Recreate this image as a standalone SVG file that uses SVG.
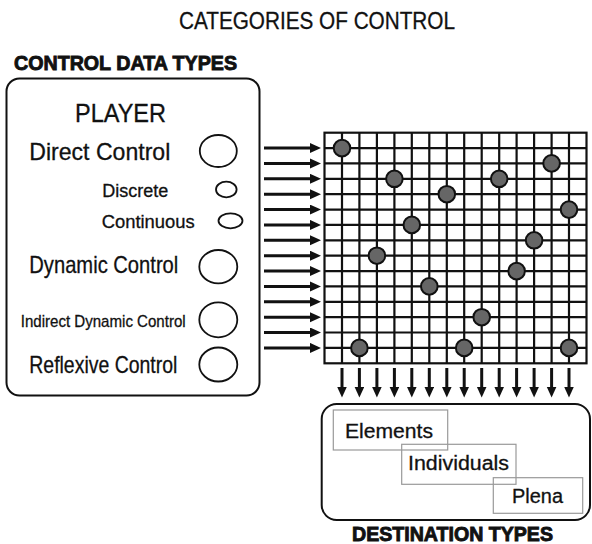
<svg xmlns="http://www.w3.org/2000/svg" width="592" height="544" viewBox="0 0 592 544">
  <style>
    text { font-family: "Liberation Sans", Arial, sans-serif; fill: #111; stroke: #111; stroke-width: 0.3px; }
    .title { font-size: 23px; }
    .heading { font-size: 20px; font-weight: bold; stroke-width: 0.9px; }
    .big { font-size: 24px; }
    .mid { font-size: 18px; }
    .small { font-size: 17px; }
    .dest { font-size: 20px; }
    .panel { fill: none; stroke: #111; stroke-width: 2; }
    .port { fill: none; stroke: #111; stroke-width: 1.8; }
    .tag { fill: none; stroke: #999; stroke-width: 1.2; }
    .grid { fill: none; stroke: #111; stroke-width: 2.2; }
    .node { fill: #666; stroke: #111; stroke-width: 2; }
    .arrow { stroke: #111; stroke-width: 3; fill: none; marker-end: url(#head); }
  </style>
  <defs>
    <marker id="head" markerUnits="userSpaceOnUse" markerWidth="12" markerHeight="11" refX="1" refY="5" orient="auto">
      <path d="M0,0 L11,5 L0,10 z" fill="#111"/>
    </marker>
  </defs>

  <rect width="592" height="544" fill="#fff"/>

  <text class="title" x="179" y="29" textLength="276" lengthAdjust="spacingAndGlyphs">CATEGORIES OF CONTROL</text>
  <text class="heading" x="14" y="70" textLength="223" lengthAdjust="spacingAndGlyphs">CONTROL DATA TYPES</text>
  <text class="heading" x="352" y="541" textLength="201" lengthAdjust="spacingAndGlyphs">DESTINATION TYPES</text>

  <!-- player: control data types -->
  <g id="player">
    <rect class="panel" x="6.5" y="78.5" width="253" height="317" rx="13"/>
    <text class="big" x="75" y="121.7" style="font-size:25px" textLength="91" lengthAdjust="spacingAndGlyphs">PLAYER</text>
    <text class="big" x="29.3" y="160" textLength="141" lengthAdjust="spacingAndGlyphs">Direct Control</text>
    <ellipse class="port" cx="218.3" cy="151" rx="18.5" ry="16"/>
    <text class="mid" x="102.3" y="196.7" textLength="66" lengthAdjust="spacingAndGlyphs">Discrete</text>
    <ellipse class="port" cx="226.3" cy="189.5" rx="10.3" ry="7.8"/>
    <text class="mid" x="101.7" y="228.3" textLength="93" lengthAdjust="spacingAndGlyphs">Continuous</text>
    <ellipse class="port" cx="230.5" cy="220.8" rx="12" ry="7.5"/>
    <text class="big" x="29.3" y="273.3" textLength="149" lengthAdjust="spacingAndGlyphs">Dynamic Control</text>
    <ellipse class="port" cx="218.3" cy="266.7" rx="19" ry="16.7"/>
    <text class="small" x="20.7" y="326.7" textLength="165" lengthAdjust="spacingAndGlyphs">Indirect Dynamic Control</text>
    <ellipse class="port" cx="218.3" cy="319.8" rx="19" ry="17.5"/>
    <text class="big" x="29.3" y="373.3" textLength="148" lengthAdjust="spacingAndGlyphs">Reflexive Control</text>
    <ellipse class="port" cx="218.3" cy="364.5" rx="19" ry="17"/>
  </g>

  <!-- routing matrix: 15 x 15 cells -->
  <g id="matrix">
    <rect class="grid" x="324.5" y="132.7" width="262" height="230.6"/>
    <path class="grid" d="M342,132.7V363.3 M359.4,132.7V363.3 M376.9,132.7V363.3 M394.4,132.7V363.3 M411.8,132.7V363.3 M429.3,132.7V363.3 M446.8,132.7V363.3 M464.2,132.7V363.3 M481.7,132.7V363.3 M499.2,132.7V363.3 M516.6,132.7V363.3 M534.1,132.7V363.3 M551.6,132.7V363.3 M569,132.7V363.3
      M324.5,148.1H586.5 M324.5,163.4H586.5 M324.5,178.8H586.5 M324.5,194.2H586.5 M324.5,209.6H586.5 M324.5,224.9H586.5 M324.5,240.3H586.5 M324.5,255.7H586.5 M324.5,271.1H586.5 M324.5,286.4H586.5 M324.5,301.8H586.5 M324.5,317.2H586.5 M324.5,332.5H586.5 M324.5,347.9H586.5"/>
    <circle class="node" cx="342" cy="148.1" r="8.3"/>
    <circle class="node" cx="551.6" cy="163.4" r="8.3"/>
    <circle class="node" cx="394.4" cy="178.8" r="8.3"/>
    <circle class="node" cx="499.2" cy="178.8" r="8.3"/>
    <circle class="node" cx="446.8" cy="194.2" r="8.3"/>
    <circle class="node" cx="569" cy="209.6" r="8.3"/>
    <circle class="node" cx="411.8" cy="224.9" r="8.3"/>
    <circle class="node" cx="534.1" cy="240.3" r="8.3"/>
    <circle class="node" cx="376.9" cy="255.7" r="8.3"/>
    <circle class="node" cx="516.6" cy="271.1" r="8.3"/>
    <circle class="node" cx="429.3" cy="286.4" r="8.3"/>
    <circle class="node" cx="481.7" cy="317.2" r="8.3"/>
    <circle class="node" cx="359.4" cy="347.9" r="8.3"/>
    <circle class="node" cx="464.2" cy="347.9" r="8.3"/>
    <circle class="node" cx="569" cy="347.9" r="8.3"/>
  </g>

  <!-- destination types -->
  <g id="destinations">
    <rect class="panel" x="321.7" y="404" width="268.3" height="116" rx="15"/>
    <rect class="tag" x="333.3" y="410" width="114.4" height="40"/>
    <rect class="tag" x="401.7" y="444.3" width="114.3" height="40"/>
    <rect class="tag" x="493.3" y="477.7" width="89.4" height="35.6"/>
    <text class="dest" x="345" y="438.3" textLength="88" lengthAdjust="spacingAndGlyphs">Elements</text>
    <text class="dest" x="408" y="470" textLength="101" lengthAdjust="spacingAndGlyphs">Individuals</text>
    <text class="dest" x="512" y="502.7" textLength="51" lengthAdjust="spacingAndGlyphs">Plena</text>
  </g>

  <!-- inputs into the matrix and outputs to the destinations -->
  <g id="connectors">
    <path class="arrow" d="M264,148.1H311"/>
    <path class="arrow" d="M264,163.4H311"/>
    <path class="arrow" d="M264,178.8H311"/>
    <path class="arrow" d="M264,194.2H311"/>
    <path class="arrow" d="M264,209.6H311"/>
    <path class="arrow" d="M264,224.9H311"/>
    <path class="arrow" d="M264,240.3H311"/>
    <path class="arrow" d="M264,255.7H311"/>
    <path class="arrow" d="M264,271.1H311"/>
    <path class="arrow" d="M264,286.4H311"/>
    <path class="arrow" d="M264,301.8H311"/>
    <path class="arrow" d="M264,317.2H311"/>
    <path class="arrow" d="M264,332.5H311"/>
    <path class="arrow" d="M264,347.9H311"/>

    <path class="arrow" d="M342,368V387.5"/>
    <path class="arrow" d="M359.4,368V387.5"/>
    <path class="arrow" d="M376.9,368V387.5"/>
    <path class="arrow" d="M394.4,368V387.5"/>
    <path class="arrow" d="M411.8,368V387.5"/>
    <path class="arrow" d="M429.3,368V387.5"/>
    <path class="arrow" d="M446.8,368V387.5"/>
    <path class="arrow" d="M464.2,368V387.5"/>
    <path class="arrow" d="M481.7,368V387.5"/>
    <path class="arrow" d="M499.2,368V387.5"/>
    <path class="arrow" d="M516.6,368V387.5"/>
    <path class="arrow" d="M534.1,368V387.5"/>
    <path class="arrow" d="M551.6,368V387.5"/>
    <path class="arrow" d="M569,368V387.5"/>
  </g>
</svg>
